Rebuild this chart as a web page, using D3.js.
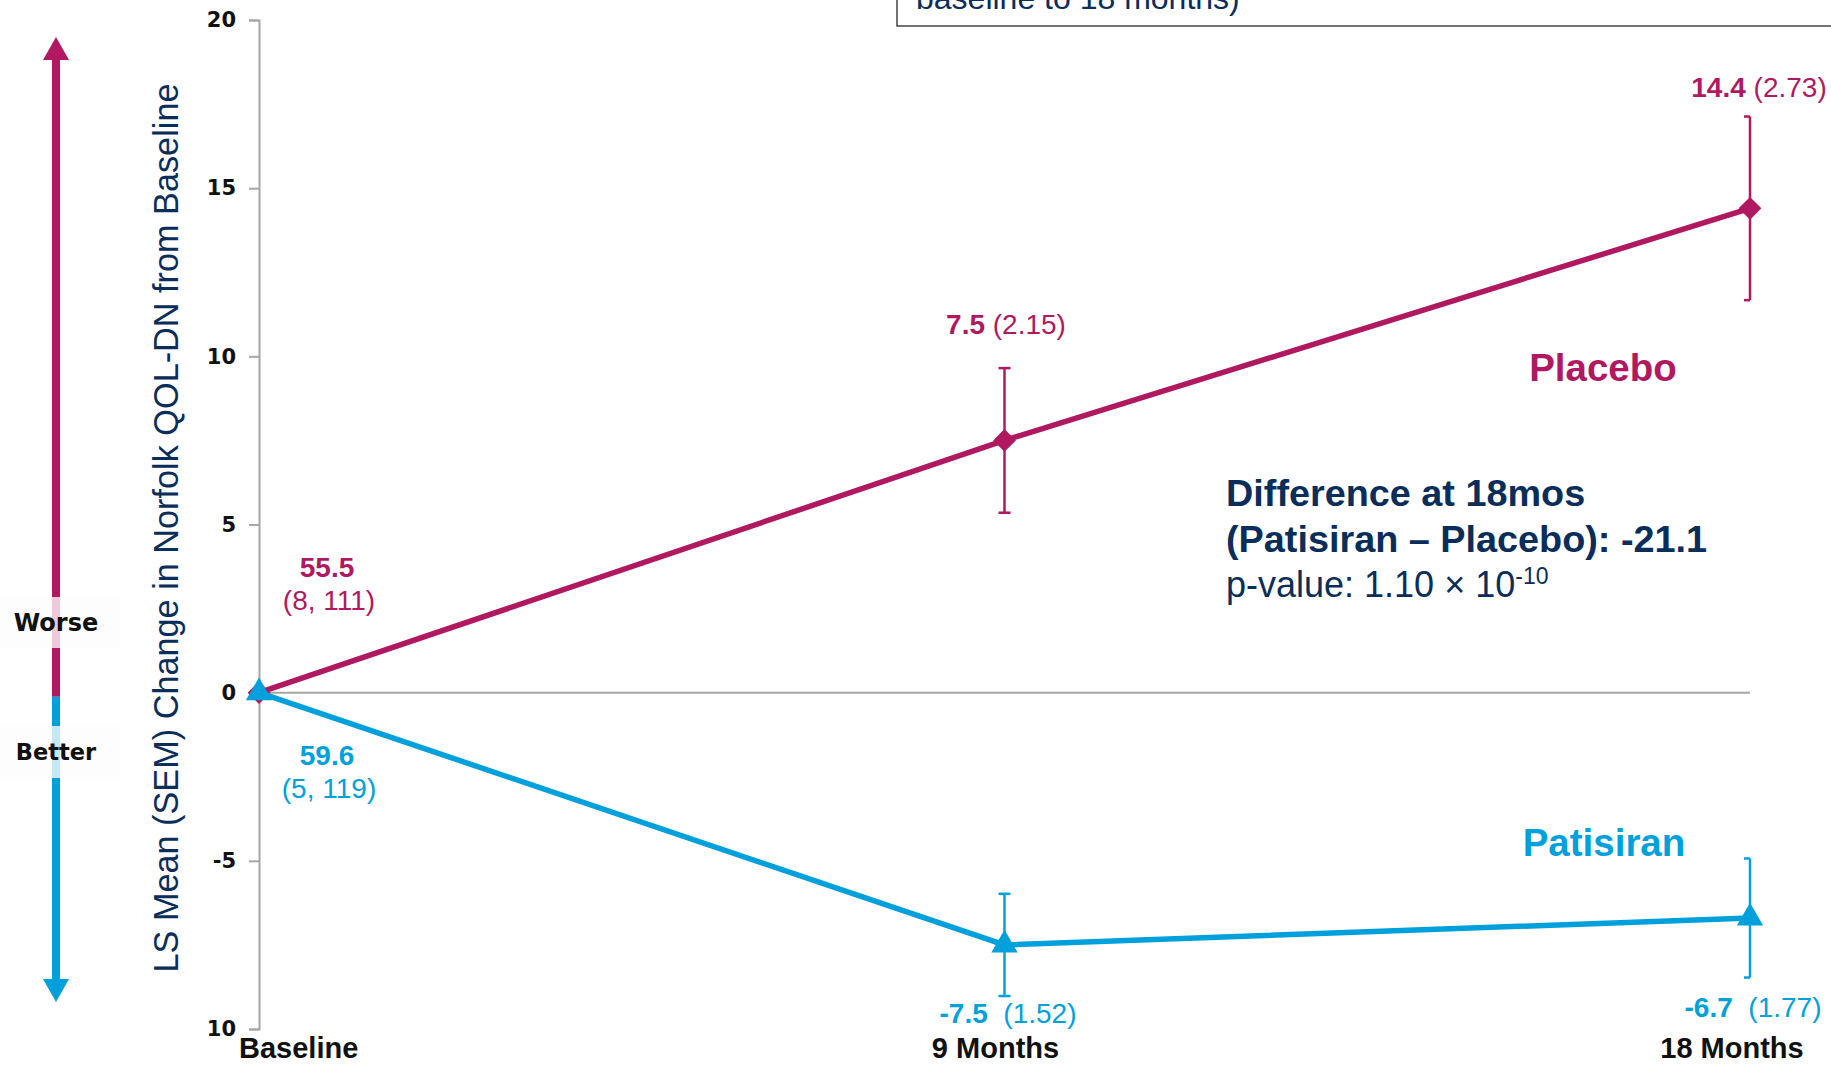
<!DOCTYPE html>
<html>
<head>
<meta charset="utf-8">
<script src="https://cdn.jsdelivr.net/npm/d3@7"></script>
<style>
body{margin:0;background:#fff;}
svg{display:block;font-family:"Liberation Sans",Arial,sans-serif;}
</style>
</head>
<body>
<div id="chart"></div>
<script>
var categories=["Baseline","9 Months","18 Months"];
var placeboMean=[0,7.5,14.4];
var placeboSem=[null,2.15,2.73];
var patisiranMean=[0,-7.5,-6.7];
var patisiranSem=[null,1.52,1.77];
var yTicks=[-10,-5,0,5,10,15,20];
var yTickLabels=["10","-5","0","5","10","15","20"];
var placeboBaseline=["55.5","(8, 111)"];
var patisiranBaseline=["59.6","(5, 119)"];

var W=1831,H=1066;
var pink="#B0195F",blue="#00A0DC",navy="#0A2D5A",grey="#a6a6a6";

var svg=d3.select("#chart").append("svg")
	.attr("width",W)
	.attr("height",H);

var x=d3.scalePoint().domain(categories).range([259,1750]);
var y=d3.scaleLinear().domain([-10,20]).range([1029,20]);

// top box (cut off)
svg.append("rect")
	.attr("x",897).attr("y",-20)
	.attr("width",1000).attr("height",46)
	.attr("fill","none")
	.attr("stroke","#444").attr("stroke-width",1.5);
svg.append("text")
	.attr("x",916).attr("y",9)
	.attr("fill",navy)
	.style("font-size","32px")
	.text("baseline to 18 months)");

// left arrow
var ax=56;
svg.append("line").attr("x1",ax).attr("x2",ax).attr("y1",55).attr("y2",y(0)+4)
	.attr("stroke",pink).attr("stroke-width",8);
svg.append("line").attr("x1",ax).attr("x2",ax).attr("y1",y(0)+4).attr("y2",985)
	.attr("stroke",blue).attr("stroke-width",8);
svg.append("path").attr("d","M"+ax+" 37 L"+(ax+13)+" 60 L"+(ax-13)+" 60 Z").attr("fill",pink);
svg.append("path").attr("d","M"+ax+" 1002 L"+(ax+13)+" 979 L"+(ax-13)+" 979 Z").attr("fill",blue);

var boxes=[{t:"Worse",y0:597,y1:648,fs:24},{t:"Better",y0:726,y1:778,fs:22.5}];
var bx=svg.selectAll("g.sidebox").data(boxes).enter().append("g").attr("class","sidebox");
bx.append("rect")
	.attr("x",0).attr("y",function(d){return d.y0;})
	.attr("width",120).attr("height",function(d){return d.y1-d.y0;})
	.attr("fill","#fdfdfd").attr("fill-opacity",0.78);
bx.append("text")
	.attr("x",56).attr("y",function(d){return (d.y0+d.y1)/2+8;})
	.attr("text-anchor","middle")
	.style("font-family","'DejaVu Sans',sans-serif")
	.style("font-weight","bold")
	.style("font-size",function(d){return d.fs+"px";})
	.attr("fill","#111")
	.text(function(d){return d.t;});

// y axis title
svg.append("text")
	.attr("transform","translate(178,528) rotate(-90)")
	.attr("text-anchor","middle")
	.attr("fill",navy)
	.style("font-size","35px")
	.attr("textLength",889)
	.attr("lengthAdjust","spacingAndGlyphs")
	.text("LS Mean (SEM) Change in Norfolk QOL-DN from Baseline");

// y axis
var yAxis=svg.append("g")
	.attr("transform","translate(259,0)")
	.call(d3.axisLeft(y).tickValues(yTicks).tickSize(10).tickSizeOuter(10).tickPadding(13)
		.tickFormat(function(d,i){return yTickLabels[i];}));
yAxis.select(".domain").attr("stroke",grey).attr("stroke-width",2);
yAxis.selectAll(".tick line").attr("stroke",grey).attr("stroke-width",2);
yAxis.selectAll(".tick text")
	.attr("fill","#111")
	.style("font-family","'DejaVu Sans',sans-serif")
	.style("font-weight","bold")
	.style("font-size","21px");

// zero line
svg.append("line")
	.attr("x1",x(categories[0])).attr("x2",x(categories[2]))
	.attr("y1",y(0)).attr("y2",y(0))
	.attr("stroke",grey).attr("stroke-width",2);

// x labels
var xLabelDx=[-20,-9,-18];
var xLabelAnchor=["start","middle","middle"];
svg.selectAll("text.xlab").data(categories).enter().append("text")
	.attr("class","xlab")
	.attr("x",function(d,i){return x(d)+xLabelDx[i];})
	.attr("y",1058)
	.attr("text-anchor",function(d,i){return xLabelAnchor[i];})
	.style("font-weight","bold")
	.style("font-size","29px")
	.attr("fill","#111")
	.text(function(d){return d;});

function drawSeries(mean,sem,color,marker,mSize){
	var pts=mean.map(function(v,i){return {c:categories[i],v:v,s:sem[i],i:i};});
	var g=svg.append("g");
	var line=d3.line().x(function(d){return x(d.c);}).y(function(d){return y(d.v);});
	var bars=g.selectAll("g.err").data(pts.filter(function(d){return d.s!=null;})).enter().append("g");
	bars.append("line")
		.attr("x1",function(d){return x(d.c);}).attr("x2",function(d){return x(d.c);})
		.attr("y1",function(d){return y(d.v+d.s);}).attr("y2",function(d){return y(d.v-d.s);})
		.attr("stroke",color).attr("stroke-width",2.5);
	[1,-1].forEach(function(sg){
		bars.append("line")
			.attr("x1",function(d){return x(d.c)-6;})
			.attr("x2",function(d){return d.i==2?x(d.c):x(d.c)+6;})
			.attr("y1",function(d){return y(d.v+sg*d.s);}).attr("y2",function(d){return y(d.v+sg*d.s);})
			.attr("stroke",color).attr("stroke-width",2.5);
	});
	g.append("path").datum(pts)
		.attr("d",line)
		.attr("fill","none")
		.attr("stroke",color).attr("stroke-width",5.5);
	g.selectAll("path.mk").data(pts).enter().append("path")
		.attr("class","mk")
		.attr("d",d3.symbol().type(marker).size(mSize))
		.attr("transform",function(d){return "translate("+x(d.c)+","+y(d.v)+")";})
		.attr("fill",color);
}
drawSeries(placeboMean,placeboSem,pink,d3.symbolDiamond2,330);
drawSeries(patisiranMean,patisiranSem,blue,d3.symbolTriangle,300);

// value labels
function valueLabel(cx,cy,mean,sem,color,gap){
	var t=svg.append("text")
		.attr("x",cx).attr("y",cy)
		.attr("text-anchor","middle")
		.attr("fill",color)
		.style("font-size","28px");
	t.append("tspan").style("font-weight","bold").text(mean);
	t.append("tspan").text(gap+"("+sem+")");
}
valueLabel(1006,334,placeboMean[1].toFixed(1),placeboSem[1].toFixed(2),pink," ");
valueLabel(1759,97,placeboMean[2].toFixed(1),placeboSem[2].toFixed(2),pink," ");
valueLabel(1008,1023,patisiranMean[1].toFixed(1),patisiranSem[1].toFixed(2),blue,"\u00a0\u00a0");
valueLabel(1753,1017,patisiranMean[2].toFixed(1),patisiranSem[2].toFixed(2),blue,"\u00a0\u00a0");

function baseLabel(lines,color,y0){
	svg.append("text").attr("x",327).attr("y",y0)
		.attr("text-anchor","middle").attr("fill",color)
		.style("font-size","28px").style("font-weight","bold").text(lines[0]);
	svg.append("text").attr("x",329).attr("y",y0+33)
		.attr("text-anchor","middle").attr("fill",color)
		.style("font-size","28px").text(lines[1]);
}
baseLabel(placeboBaseline,pink,577);
baseLabel(patisiranBaseline,blue,765);

// series names
svg.append("text").attr("x",1603).attr("y",381)
	.attr("text-anchor","middle").attr("fill",pink)
	.style("font-size","38.5px").style("font-weight","bold").text("Placebo");
svg.append("text").attr("x",1604).attr("y",856)
	.attr("text-anchor","middle").attr("fill",blue)
	.style("font-size","38.5px").style("font-weight","bold").text("Patisiran");

// difference note
svg.append("text").attr("x",1226).attr("y",506)
	.attr("fill",navy).style("font-size","37.8px").style("font-weight","bold")
	.text("Difference at 18mos");
svg.append("text").attr("x",1226).attr("y",552)
	.attr("fill",navy).style("font-size","37.8px").style("font-weight","bold")
	.text("(Patisiran \u2013 Placebo): -21.1");
var pv=svg.append("text").attr("x",1226).attr("y",597)
	.attr("fill",navy).style("font-size","36px");
pv.append("tspan").text("p-value: 1.10 \u00d7 10");
pv.append("tspan").attr("dy",-13).style("font-size","23px").text("-10");
</script>
</body>
</html>
